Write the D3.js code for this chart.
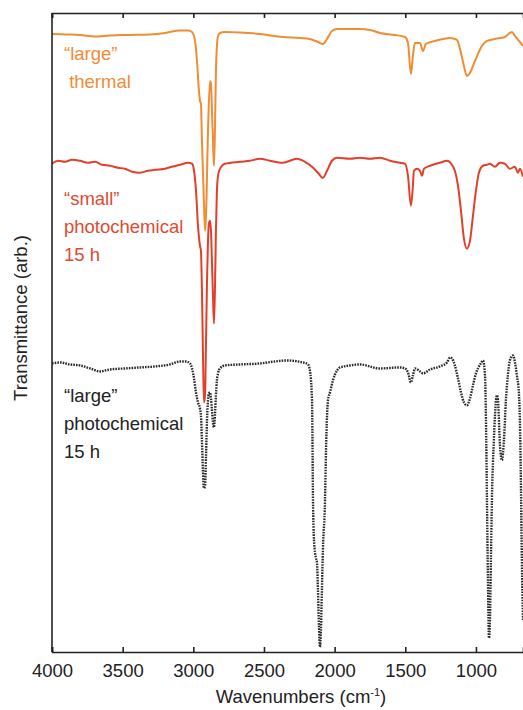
<!DOCTYPE html>
<html>
<head>
<meta charset="utf-8">
<script src="https://cdn.jsdelivr.net/npm/d3@7"></script>
<style>
  body { margin: 0; background: #fff; }
  text { font-family: "Liberation Sans", Arial, sans-serif; }
</style>
</head>
<body>
<svg id="chart" width="523" height="710"></svg>
<script>
// wavenumbers (cm-1) and transmittance (arb.)
var thermalWn = [4000,3908,3802,3696,3590,3448,3307,3200,3094,3038,3009,2988,2974,2960,2953,2946,2939,2925,2917,2910,2896,2882,2875,2868,2861,2854,2847,2840,2833,2825,2811,2776,2670,2528,2366,2245,2175,2118,2083,2054,2019,1983,1821,1750,1679,1573,1502,1481,1460,1446,1432,1396,1375,1354,1290,1184,1134,1113,1085,1064,1042,1007,958,922,866,795,760,745,724,689,667];
var thermalT  = [123.8,123.7,123.6,123.3,123.5,123.6,123.7,124,124.5,124.5,124.2,122.4,118.4,112.4,110.4,109.8,102.4,90.4,84.4,87.4,104.4,114.4,114,108.4,102.4,97.4,104.4,116.4,121.4,123.4,124,124.2,124.1,123.8,123.2,123,122.8,122.2,121.8,122.8,124.4,124.8,124.8,124.6,124,123.6,123.2,122,115.8,119.4,122,122,120.4,121.8,122.4,123,122.6,120.8,117.4,115.4,116,118.4,121.4,122.4,122.8,123.2,124,124.2,123.4,122.2,121.4];

var smallWn = [4000,3958,3908,3858,3802,3745,3696,3646,3590,3533,3483,3434,3377,3321,3271,3200,3151,3094,3038,3009,2995,2981,2967,2953,2946,2939,2932,2925,2917,2910,2903,2896,2889,2882,2875,2868,2861,2854,2847,2840,2833,2825,2811,2797,2776,2670,2599,2528,2458,2366,2267,2210,2160,2118,2083,2054,2019,1983,1892,1821,1750,1679,1608,1538,1502,1481,1460,1446,1439,1417,1396,1382,1368,1325,1255,1205,1170,1149,1127,1106,1085,1064,1042,1021,1000,979,950,922,901,866,830,795,760,724,703,689,667];
var smallT  = [97.8,98.4,98.2,98.6,98.4,98,98.2,97.6,97.4,97,96.8,96.2,96,96.4,96.6,96.8,97.2,97.6,98,97.8,96.4,92.4,85.4,81.4,80.4,72.4,60.4,50,51.4,62.4,74.4,82.4,86,86.4,84.4,78,71.4,65.8,72.4,84.4,92.4,95.4,96.8,97.4,97.8,98.2,98.4,98.8,98.4,98,98.8,98.2,97.2,96,95,96.4,98.4,99,98.8,99,98.8,99,98.4,98,97.8,95.4,89.4,93.4,96.4,96.8,96.4,95.4,96.8,97.4,98,98.4,97.6,96.4,93.4,88.4,82.8,80.8,82.4,87.4,92.4,96,97.4,97.6,97.8,97.2,98,97.8,96.8,97.2,96,96.8,95.2];

var photoWn = [4000,3943,3873,3802,3731,3660,3590,3483,3377,3271,3165,3094,3052,3024,3009,2995,2981,2967,2953,2946,2939,2932,2925,2917,2910,2903,2896,2889,2882,2875,2868,2861,2854,2847,2840,2833,2825,2811,2776,2670,2528,2422,2337,2224,2189,2175,2160,2153,2146,2132,2125,2118,2111,2104,2097,2090,2083,2068,2061,2047,2033,2012,1983,1962,1892,1821,1679,1538,1502,1481,1460,1446,1432,1396,1375,1325,1255,1205,1184,1170,1149,1127,1106,1085,1064,1042,1021,1000,986,965,950,936,929,922,915,908,901,894,887,873,858,851,844,830,816,802,788,774,760,738,724,710,696,689,682,675,667];
var photoT  = [57.8,58,57.6,57.4,56.8,56.2,56.6,56.8,57,57.2,57.6,58.2,58.2,57.8,56.8,54.8,52,50,48.8,47.4,42.4,36.4,32.8,33.4,39.4,46.4,50.4,51.8,52,50.8,48.4,46,45,47.4,51.4,54.4,55.8,56.8,57.4,57.6,57.8,58.2,58.4,58,57.6,56.4,50.4,30.4,22.4,18.8,18,12.4,5.4,1,4.4,12.4,20.4,30.4,40.4,50.4,52,54.4,56.4,57,57.4,57.6,56.8,57,56.8,56,54,55.4,56.8,56.2,55.8,56.6,57.2,58,59,58.8,57.4,54.8,52,50,49.4,50.8,53.4,55.8,56.8,57.8,58.4,55.4,46.4,30.4,14.4,2.8,6.4,18.4,30.4,42.4,50.4,51.4,50.4,41.4,38.4,42.4,50.4,55.4,58.4,59.4,58,55.4,51.8,46.4,34.4,18.4,6.4];

var xTicks = [4000, 3500, 3000, 2500, 2000, 1500, 1000];

var series = [
  { wn: thermalWn, t: thermalT, color: "#f08c32", dash: null, width: 2,
    label: ["\u201clarge\u201d", "\u00a0thermal"], textColor: "#f08c38", ly: 60 },
  { wn: smallWn, t: smallT, color: "#e2402a", dash: null, width: 2,
    label: ["\u201csmall\u201d", "photochemical", "15 h"], textColor: "#e04a30", ly: 205 },
  { wn: photoWn, t: photoT, color: "#2a2a2a", dash: "1.6 1.1", width: 2.4,
    label: ["\u201clarge\u201d", "photochemical", "15 h"], textColor: "#222", ly: 402 }
];

var svg = d3.select("#chart");
var mLeft = 52, mRight = 523, mTop = 13, mBottom = 652;

var x = d3.scaleLinear().domain([4000, 667]).range([mLeft, mRight]);
var y = d3.scaleLinear().domain([0, 128]).range([mBottom, mTop]);

svg.append("clipPath").attr("id", "plot")
  .append("rect").attr("x", mLeft).attr("y", mTop).attr("width", mRight - mLeft).attr("height", mBottom - mTop);

var line = d3.line()
  .x(function(d) { return x(d[0]); })
  .y(function(d) { return y(d[1]); })
  .curve(d3.curveMonotoneX);

var g = svg.append("g").attr("clip-path", "url(#plot)");
series.forEach(function(s) {
  g.append("path")
    .datum(d3.zip(s.wn, s.t))
    .attr("d", line)
    .attr("fill", "none")
    .attr("stroke", s.color)
    .attr("stroke-width", s.width)
    .attr("stroke-dasharray", s.dash)
    .attr("stroke-linejoin", "round");
});

// axes, ticks pointing inward
var bottomAxis = d3.axisBottom(x).tickValues(xTicks).tickSize(-5).tickPadding(12).tickFormat(d3.format("d"));
var topAxis = d3.axisTop(x).tickValues(xTicks).tickSize(-5).tickFormat("");

var ba = svg.append("g").attr("transform", "translate(0," + mBottom + ")").call(bottomAxis);
var ta = svg.append("g").attr("transform", "translate(0," + mTop + ")").call(topAxis);
[ba, ta].forEach(function(a) {
  a.select(".domain").attr("stroke", "#222").attr("stroke-width", 1.6);
  a.selectAll(".tick line").attr("stroke", "#222").attr("stroke-width", 1.6);
});
ba.selectAll(".tick text").attr("font-size", 18.5).attr("fill", "#222")
  .attr("font-family", "Liberation Sans, Arial, sans-serif");

svg.append("line").attr("x1", mLeft).attr("x2", mLeft).attr("y1", mTop).attr("y2", mBottom)
  .attr("stroke", "#222").attr("stroke-width", 1.6);

// series labels
series.forEach(function(s) {
  var t = svg.append("text").attr("x", 64).attr("y", s.ly)
    .attr("font-size", 18.5).attr("fill", s.textColor);
  s.label.forEach(function(l, i) {
    t.append("tspan").attr("x", 64).attr("dy", i === 0 ? 0 : 28).text(l);
  });
});

// axis titles
var xt = svg.append("text").attr("x", 301).attr("y", 703).attr("text-anchor", "middle")
  .attr("font-size", 18.5).attr("fill", "#222");
xt.append("tspan").text("Wavenumbers (cm");
xt.append("tspan").attr("font-size", 11).attr("dy", -7).text("-1");
xt.append("tspan").attr("dy", 7).text(")");

svg.append("text").attr("transform", "translate(27,318) rotate(-90)")
  .attr("text-anchor", "middle").attr("font-size", 18.5).attr("fill", "#222")
  .text("Transmittance (arb.)");
</script>
</body>
</html>
